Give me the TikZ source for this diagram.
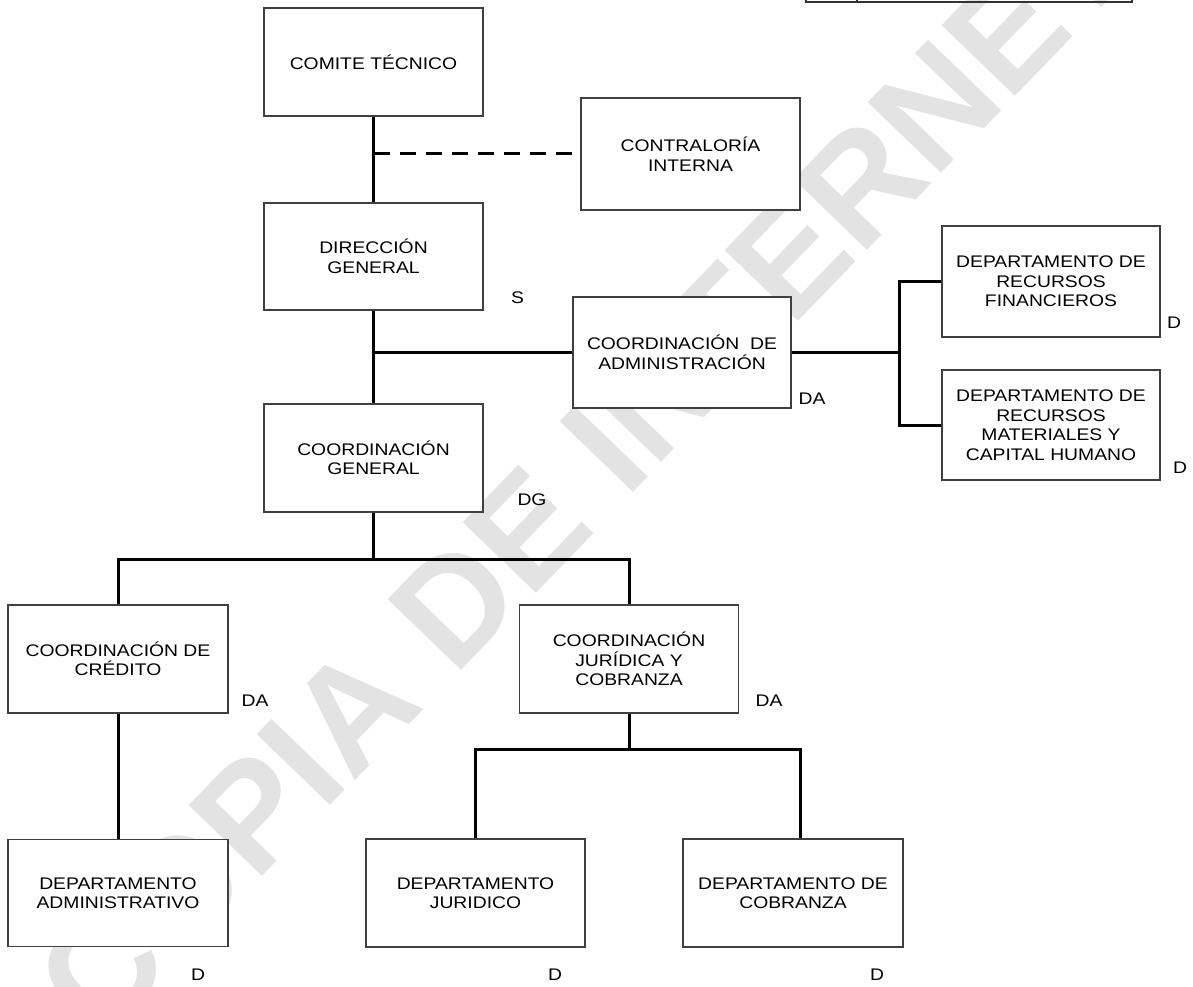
\documentclass[tikz,border=0pt]{standalone}
\usepackage{fontspec}
\setmainfont{Liberation Sans}[FakeStretch=1.15]
\newfontfamily\wmfont{Liberation Sans}
\newcommand\lblfont{\fontsize{16.8pt}{19.5pt}\selectfont}
\begin{document}
\begin{tikzpicture}[x=1pt,y=-1pt,
  box/.style={draw=black!75, fill=white, line width=1.1pt, rectangle, inner sep=0pt,
              minimum width=219pt, minimum height=108pt, align=center, font=\lblfont},
  conn/.style={line width=3pt, black},
  tag/.style={inner sep=0pt, font=\lblfont}]
\useasboundingbox (0,0) rectangle (1193,987);
% watermark
\begin{scope}
\clip (0,0) rectangle (1193,987);
\node[rotate=46, text=black!11, inner sep=0pt,
      font=\wmfont\bfseries\fontsize{148pt}{150pt}\selectfont] (wm) at (584,470) {COPIA DE INTERNET};
\end{scope}
% top-right table edge
\draw[line width=1.2pt, black!80] (806,-2) -- (806,2) -- (1132,2) -- (1132,-2);
\draw[line width=1.2pt, black!80] (857,-2) -- (857,2);
% boxes
\node[box] (ct) at (373.5,62) {COMITE TÉCNICO};
\node[box, minimum height=112pt] (ci) at (690.5,154) {CONTRALORÍA\\INTERNA};
\node[box, minimum height=107pt] (dg) at (373.5,256.5) {DIRECCIÓN\\GENERAL};
\node[box, minimum width=218pt, minimum height=111pt] (ca) at (682,352.5) {COORDINACIÓN~~DE\\ADMINISTRACIÓN};
\node[box, minimum width=218pt, minimum height=111pt] (drf) at (1051,281.5) {DEPARTAMENTO DE\\RECURSOS\\FINANCIEROS};
\node[box, minimum width=218pt, minimum height=110pt] (drm) at (1051,425) {DEPARTAMENTO DE\\RECURSOS\\MATERIALES Y\\CAPITAL HUMANO};
\node[box] (cg) at (373.5,458) {COORDINACIÓN\\GENERAL};
\node[box, minimum width=220pt] (cc) at (118,659) {COORDINACIÓN DE\\CRÉDITO};
\node[box] (cj) at (629,659) {COORDINACIÓN\\JURÍDICA Y\\COBRANZA};
\node[box, minimum width=220pt, minimum height=107pt] (dad) at (118,893) {DEPARTAMENTO\\ADMINISTRATIVO};
\node[box] (dj) at (475.5,893) {DEPARTAMENTO\\JURIDICO};
\node[box, minimum width=220pt] (dc) at (793,893) {DEPARTAMENTO DE\\COBRANZA};
% junctions
\coordinate (jd) at (373.5,154);
\coordinate (ja) at (373.5,352.5);
\coordinate (jr) at (899,352.5);
\coordinate (jg) at (373.5,559);
\coordinate (jj) at (629,749);
\coordinate (jc) at ([xshift=7pt]dc.north);
% connectors
\draw[conn] (ct.south) -- (dg.north);
\draw[conn, dash pattern=on 16pt off 10pt] (jd) -- ([xshift=-5pt]ci.west);
\draw[conn] (dg.south) -- (cg.north);
\draw[conn] (ja) -- (ca.west);
\draw[conn] (ca.east) -- (jr);
\draw[conn] (drf.west) -| (jr) |- (drm.west);
\draw[conn] (cg.south) -- (jg);
\draw[conn] (cc.north) |- (jg) -| (cj.north);
\draw[conn] (cc.south) -- (dad.north);
\draw[conn] (cj.south) -- (jj);
\draw[conn] (dj.north) |- (jj) -| (jc);
% level tags
\node[tag] (tS) at (517.5,298) {S};
\node[tag] (tDA1) at (812,399) {DA};
\node[tag] (tDG) at (532,499.5) {DG};
\node[tag] (tD1) at (1174,323) {D};
\node[tag] (tD2) at (1180,468) {D};
\node[tag] (tDA2) at (255,701) {DA};
\node[tag] (tDA3) at (769,701) {DA};
\node[tag] (tD3) at (198,975) {D};
\node[tag] (tD4) at (555,975) {D};
\node[tag] (tD5) at (877,975) {D};
\end{tikzpicture}
\end{document}
